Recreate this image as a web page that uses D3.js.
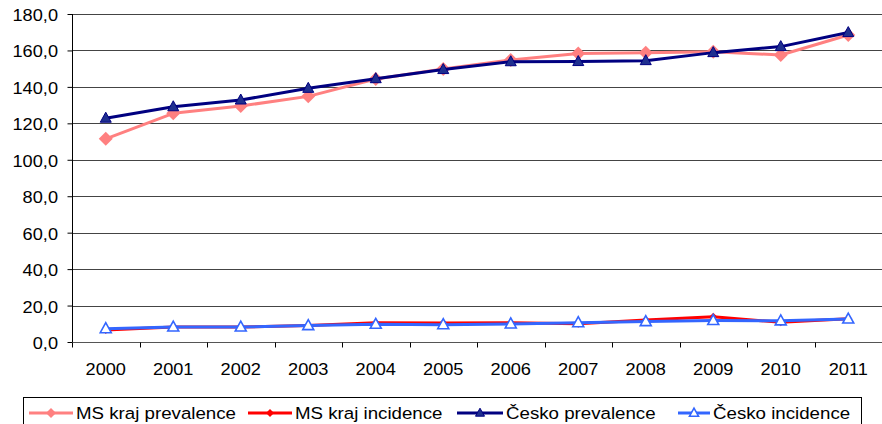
<!DOCTYPE html>
<html><head><meta charset="utf-8">
<script src="https://cdn.jsdelivr.net/npm/d3@7"></script>
<style>
html,body{margin:0;padding:0;background:#fff;}
svg{display:block;}
text{font-family:"Liberation Sans",Arial,sans-serif;fill:#000;}
</style></head>
<body>
<svg id="c" width="882" height="424"></svg>
<script>
const years = ["2000","2001","2002","2003","2004","2005","2006","2007","2008","2009","2010","2011"];
const msPrevalence = [111.5,125.5,129.5,134.8,144.3,149.8,154.8,158.3,158.8,159.3,157.5,168.5];
const msIncidence  = [6.6,8.2,8.2,9.0,10.6,10.4,10.5,10.0,12.1,13.8,10.8,12.7];
const czPrevalence = [122.8,129.1,132.8,139.2,144.5,149.5,153.8,153.9,154.4,158.8,162.1,169.8];
const czIncidence  = [7.3,8.2,8.2,9.0,9.7,9.5,9.9,10.6,11.2,11.8,11.6,12.6];
const yTicks = [0,20,40,60,80,100,120,140,160,180];
const seriesNames = ["MS kraj prevalence","MS kraj incidence","Česko prevalence","Česko incidence"];

const svg = d3.select("#c");
const L = 72, R = 882, T = 14, B = 342;
const x = d3.scaleBand().domain(years).range([L, R]);
const y = d3.scaleLinear().domain([0,180]).range([B, T]);

// gridlines
svg.append("g").selectAll("line").data(yTicks.filter(d=>d>0)).join("line")
  .attr("x1",L).attr("x2",R).attr("y1",d=>Math.round(y(d))+0.5).attr("y2",d=>Math.round(y(d))+0.5)
  .attr("stroke","#444").attr("stroke-width",1);

// y axis
const yAx = svg.append("g").attr("transform",`translate(${L+0.5},0)`)
  .call(d3.axisLeft(y).tickValues(yTicks).tickSize(5).tickPadding(0).tickFormat(d=>d3.format(".1f")(d).replace(".",",")));
yAx.select(".domain").attr("stroke","#000").attr("d",`M0,${T}V${B}`);
yAx.selectAll(".tick line").attr("stroke","#000");
yAx.selectAll(".tick text").attr("x",0).attr("dy",0).attr("y",0).text(null);
yAx.selectAll(".tick").each(function(d){
  d3.select(this).append("text").attr("transform","translate(-14.5,6.5) scale(1.07,1)")
    .attr("text-anchor","end").attr("font-size",17).text(d3.format(".1f")(d).replace(".",","));
});

// x axis
const xAx = svg.append("g").attr("transform",`translate(0,${B+0.5})`)
  .call(d3.axisBottom(x).tickSize(0).tickFormat(""));
xAx.select(".domain").attr("stroke","#555").attr("d",`M${L},0H${R}`);
xAx.selectAll(".tick text").remove();
const bounds = years.map((d)=>x(d)).concat([R]);
xAx.selectAll("line.b").data(bounds).join("line").attr("class","b")
  .attr("x1",d=>Math.round(d)+0.5).attr("x2",d=>Math.round(d)+0.5).attr("y1",0).attr("y2",5).attr("stroke","#000");
xAx.selectAll("text.lab").data(years).join("text").attr("class","lab")
  .attr("transform",d=>`translate(${x(d)+x.bandwidth()/2},32) scale(1.07,1)`)
  .attr("text-anchor","middle").attr("font-size",17).text(d=>d);

const cx = (i)=>x(years[i])+x.bandwidth()/2;
const line = d3.line().x((d,i)=>cx(i)).y(d=>y(d));

const diamond = (s)=>`M0,${-s}L${s},0L0,${s}L${-s},0Z`;
const tri = (w,h)=>`M0,${-h*0.6}L${w/2},${h*0.4}L${-w/2},${h*0.4}Z`;

const styles = [
  {data:msPrevalence, color:"#FF8080", width:3, marker:diamond(7), fill:"#FF8080", stroke:"#FF8080", mw:0, lmarker:diamond(5)},
  {data:msIncidence, color:"#FF0000", width:3, marker:diamond(4), fill:"#FF0000", stroke:"#FF0000", mw:0, lmarker:diamond(4)},
  {data:czPrevalence, color:"#000080", width:3, marker:tri(11,10), fill:"#1F2F8F", stroke:"#000080", mw:1, lmarker:tri(9,8)},
  {data:czIncidence, color:"#3366FF", width:3, marker:tri(11,10), fill:"#FFFFFF", stroke:"#3366FF", mw:1.6, lmarker:tri(9,8)}
];

const plot = svg.append("g");
styles.forEach(s=>{
  plot.append("path").datum(s.data).attr("d",line).attr("fill","none")
    .attr("stroke",s.color).attr("stroke-width",s.width).attr("stroke-linejoin","round");
  plot.append("g").selectAll("path").data(s.data).join("path")
    .attr("transform",(d,i)=>`translate(${cx(i)},${y(d)})`).attr("d",s.marker)
    .attr("fill",s.fill).attr("stroke",s.stroke).attr("stroke-width",s.mw);
});

// legend
const lg = svg.append("g");
lg.append("rect").attr("x",23.5).attr("y",397.5).attr("width",838).attr("height",40)
  .attr("fill","#fff").attr("stroke","#000").attr("stroke-width",1);
const itemX = [29,248,457,678];
const lineLen = [44,44,46,32];
seriesNames.forEach((n,i)=>{
  const s = styles[i], g = lg.append("g").attr("transform",`translate(${itemX[i]},413)`);
  g.append("line").attr("x1",0).attr("x2",lineLen[i]).attr("stroke",s.color).attr("stroke-width",3);
  g.append("path").attr("transform",`translate(${lineLen[i]/2},0)`).attr("d",s.lmarker)
    .attr("fill",s.fill).attr("stroke",s.stroke).attr("stroke-width",s.mw);
  g.append("text").attr("transform",`translate(${lineLen[i]+3},6) scale(1.1,1)`).attr("font-size",17).text(n);
});
</script>
</body></html>
